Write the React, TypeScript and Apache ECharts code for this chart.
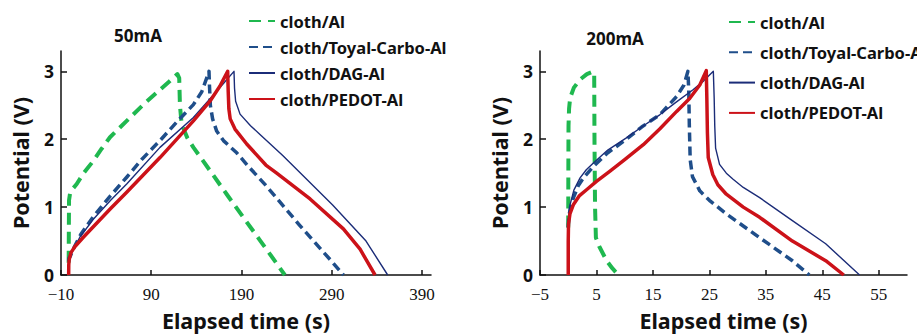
import React, { useEffect, useRef } from "react";
import * as echarts from "echarts";

const seriesNames = ["cloth/Al", "cloth/Toyal-Carbo-Al", "cloth/DAG-Al", "cloth/PEDOT-Al"];
const panelTitles = ["50mA", "200mA"];
const xTicks50 = [-10, 90, 190, 290, 390];
const xTicks200 = [-5, 5, 15, 25, 35, 45, 55];
const yTicks = [0, 1, 2, 3];

// 50 mA : elapsed time (s) / potential (V)
const al50T = [-1.5, -1.3, -1.1, 0, 3, 7.4, 15, 25.8, 35, 44.3, 62.8, 81.2, 99.7, 110, 119, 121, 121.8, 123.7, 130, 136.7, 155, 173.6, 192, 210.5, 229, 238];
const al50V = [0.18, 0.7, 1.1, 1.2, 1.27, 1.34, 1.5, 1.68, 1.86, 2.03, 2.27, 2.51, 2.73, 2.85, 2.96, 2.9, 2.5, 2.22, 2.02, 1.88, 1.54, 1.19, 0.85, 0.51, 0.17, 0.0];
const toyal50T = [-1.5, -1.2, 0, 5, 12, 25.8, 45, 62.8, 80, 99.7, 118, 136.7, 146, 151.4, 154, 154.5, 155.5, 158, 162.5, 170, 184.7, 197.6, 217, 254, 290, 303];
const toyal50V = [0.2, 0.25, 0.27, 0.42, 0.6, 0.86, 1.17, 1.44, 1.71, 1.98, 2.25, 2.51, 2.7, 2.9, 3.0, 2.8, 2.5, 2.3, 2.12, 1.98, 1.8, 1.6, 1.32, 0.74, 0.2, 0.0];
const dag50T = [-1.5, -1.2, 2, 11, 25.8, 45, 62.8, 99.7, 136.7, 152, 170, 181.7, 182.3, 183.5, 188.4, 200, 210.5, 235.7, 291, 328, 352];
const dag50V = [0.15, 0.22, 0.33, 0.56, 0.82, 1.1, 1.34, 1.88, 2.32, 2.55, 2.82, 3.0, 2.75, 2.56, 2.37, 2.2, 2.07, 1.76, 1.03, 0.5, 0.0];
const pedot50T = [-1.5, -1.4, -1, 1, 5.5, 15, 25.8, 45, 62.8, 99.7, 136.7, 155.1, 166, 174.7, 175.3, 176, 177.5, 182.8, 195.8, 217, 229, 266, 302.9, 321.4, 338];
const pedot50V = [0.0, 0.15, 0.22, 0.33, 0.42, 0.56, 0.71, 0.98, 1.22, 1.73, 2.27, 2.56, 2.78, 3.0, 2.7, 2.45, 2.3, 2.15, 1.93, 1.62, 1.5, 1.12, 0.68, 0.38, 0.0];

// 200 mA
const al200T = [0, 0.02, 0.05, 0.15, 0.34, 1, 2.1, 3.3, 4.46, 4.6, 4.65, 4.75, 4.9, 5.5, 6.8, 7.8, 8.9];
const al200V = [0.7, 1.5, 2.2, 2.45, 2.61, 2.76, 2.88, 2.96, 3.0, 2.95, 2.0, 1.0, 0.55, 0.42, 0.21, 0.1, 0.0];
const toyal200T = [0, 0.1, 0.4, 0.93, 1.8, 2.7, 4.46, 7, 10.3, 13, 16.2, 19.2, 20.5, 21.2, 21.35, 21.45, 21.6, 22, 23.3, 25, 28, 33.9, 39.7, 42.7];
const toyal200V = [0.7, 0.85, 1.0, 1.14, 1.32, 1.43, 1.6, 1.8, 2.0, 2.18, 2.36, 2.63, 2.8, 3.0, 2.7, 2.2, 1.7, 1.45, 1.24, 1.1, 0.9, 0.55, 0.21, 0.0];
const dag200T = [0, 0.1, 0.34, 1, 2.1, 3.2, 4.46, 7, 10.3, 13, 16.2, 19, 22.1, 24, 25.7, 25.85, 25.95, 26.1, 26.8, 28, 29.2, 31, 33.9, 39.7, 45.6, 51.6];
const dag200V = [0.7, 0.9, 1.04, 1.25, 1.43, 1.55, 1.65, 1.84, 2.02, 2.18, 2.36, 2.54, 2.73, 2.86, 3.0, 2.6, 2.2, 1.87, 1.63, 1.5, 1.41, 1.29, 1.14, 0.8, 0.46, 0.0];
const pedot200T = [0, 0, 0.05, 0.3, 0.93, 2, 3.3, 5, 7.4, 10, 13.3, 16.2, 19.2, 21.5, 23.3, 24.45, 24.55, 24.65, 24.8, 25.6, 26.5, 28, 31, 33.9, 39.7, 45.6, 48.8];
const pedot200V = [0, 0.5, 0.75, 0.9, 1.04, 1.17, 1.26, 1.38, 1.53, 1.7, 1.92, 2.15, 2.41, 2.6, 2.8, 3.01, 2.6, 2.1, 1.73, 1.48, 1.33, 1.19, 1.0, 0.85, 0.5, 0.21, 0.0];

const zip = (t: number[], v: number[]) => t.map((x, i) => [x, v[i]]);

const COLORS = ["#1fb84f", "#1f4e8a", "#1b2c78", "#cc1219"];
const WIDTHS = [4, 3.5, 1.4, 3.5];
const TYPES: any[] = [[12, 7], [9, 5], "solid", "solid"];

const SANS = "Noto Sans";
const SERIF = "Liberation Serif";
const AXIS_COLOR = "#111";

const fmtMinus = (v: number) => (v < 0 ? "\u2212" + Math.abs(v) : String(v));

function makeX(gridIndex: number, min: number, max: number, ticks: number[]) {
  return {
    type: "value",
    gridIndex,
    min,
    max,
    name: "Elapsed time (s)",
    nameLocation: "middle",
    nameGap: 34,
    nameTextStyle: { fontFamily: SANS, fontWeight: "bold", fontSize: 21.5, color: AXIS_COLOR },
    axisLine: { show: true, onZero: false, lineStyle: { color: AXIS_COLOR, width: 1.5 } },
    axisTick: { show: true, inside: true, length: 5, customValues: ticks, lineStyle: { color: AXIS_COLOR, width: 1.5 } },
    axisLabel: { customValues: ticks, formatter: fmtMinus, fontFamily: SERIF, fontSize: 17, lineHeight: 17, color: AXIS_COLOR, margin: 11 },
    splitLine: { show: false },
  };
}

function makeY(gridIndex: number) {
  return {
    type: "value",
    gridIndex,
    min: 0,
    max: 3.3,
    name: "Potential (V)",
    nameLocation: "middle",
    nameGap: 30,
    nameRotate: 90,
    nameTextStyle: { fontFamily: SANS, fontWeight: "bold", fontSize: 21.5, color: AXIS_COLOR },
    axisLine: { show: true, onZero: false, lineStyle: { color: AXIS_COLOR, width: 1.5 } },
    axisTick: { show: true, inside: true, length: 6, customValues: yTicks, lineStyle: { color: AXIS_COLOR, width: 1.5 } },
    axisLabel: { customValues: yTicks, fontFamily: SANS, fontWeight: "bold", fontSize: 17.5, lineHeight: 15, color: AXIS_COLOR, margin: 7 },
    splitLine: { show: false },
  };
}

export default function App() {
  const ref = useRef<HTMLDivElement>(null);
  useEffect(() => {
    if (!ref.current) return;
    const chart = echarts.init(ref.current, undefined, { renderer: "svg" });
    const panels = [
      [zip(al50T, al50V), zip(toyal50T, toyal50V), zip(dag50T, dag50V), zip(pedot50T, pedot50V)],
      [zip(al200T, al200V), zip(toyal200T, toyal200V), zip(dag200T, dag200V), zip(pedot200T, pedot200V)],
    ];
    const series: any[] = [];
    panels.forEach((p, gi) => {
      p.forEach((data, si) => {
        series.push({
          type: "line",
          name: seriesNames[si],
          xAxisIndex: gi,
          yAxisIndex: gi,
          data,
          showSymbol: false,
          symbol: "none",
          z: 2 + si,
          lineStyle: { color: COLORS[si], width: WIDTHS[si], type: TYPES[si], cap: "butt", join: "round" },
          itemStyle: { color: COLORS[si] },
        });
      });
    });
    const legendText = { fontFamily: SANS, fontWeight: "bold", fontSize: 16.5, color: AXIS_COLOR, lineHeight: 20 };
    const legendBase = {
      orient: "vertical",
      itemWidth: 26,
      itemHeight: 14,
      padding: 0,
      textStyle: legendText,
      itemStyle: { opacity: 0 },
      data: seriesNames,
    };
    chart.setOption({
      animation: false,
      backgroundColor: "#fff",
      grid: [
        { left: 61, top: 51, width: 370, height: 226 },
        { left: 540, top: 51, width: 367, height: 225 },
      ],
      xAxis: [makeX(0, -10, 400, xTicks50), makeX(1, -5, 60, xTicks200)],
      yAxis: [makeY(0), makeY(1)],
      legend: [
        { ...legendBase, left: 248, top: 11, itemGap: 6 },
        { ...legendBase, left: 728, top: 12, itemGap: 10.3 },
      ],
      graphic: [
        { type: "text", x: 138, y: 35, style: { text: panelTitles[0], fontFamily: SANS, fontWeight: "bold", fontSize: 17, fill: AXIS_COLOR, textAlign: "center", textVerticalAlign: "middle" } },
        { type: "text", x: 615, y: 38, style: { text: panelTitles[1], fontFamily: SANS, fontWeight: "bold", fontSize: 17, fill: AXIS_COLOR, textAlign: "center", textVerticalAlign: "middle" } },
      ],
      series,
    });
    return () => chart.dispose();
  }, []);
  return <div ref={ref} style={{ position: "fixed", left: 0, top: 0, width: 917, height: 336 }} />;
}
